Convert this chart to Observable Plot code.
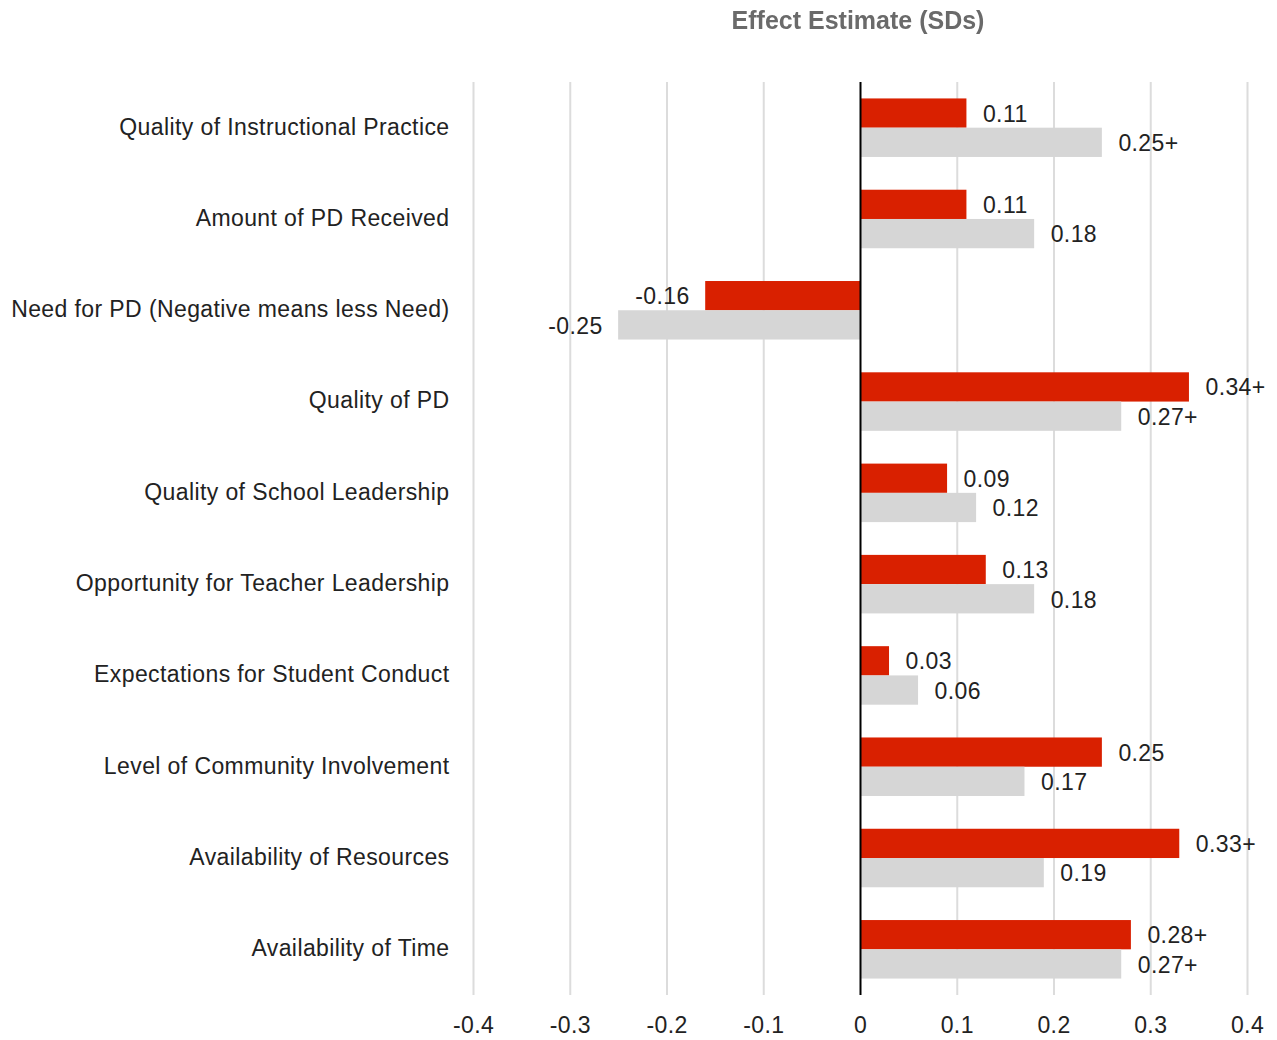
<!DOCTYPE html>
<html>
<head>
<meta charset="utf-8">
<script src="https://cdn.jsdelivr.net/npm/d3@7"></script>
<script src="https://cdn.jsdelivr.net/npm/@observablehq/plot@0.6"></script>
<style>
  html, body { margin: 0; padding: 0; background: #fff; }
  #title { height: 45px; width: 1277px; position: relative; font-family: "Liberation Sans", Arial, sans-serif; }
  #title span { position: absolute; left: 858px; top: 6px; transform: translateX(-50%); font-size: 25px; font-weight: bold; color: #6a6a6a; white-space: nowrap; filter: blur(0.6px); }
  svg { display: block; }
  svg text { letter-spacing: 0.4px; }
</style>
</head>
<body>
<div id="title"><span>Effect Estimate (SDs)</span></div>
<div id="chart"></div>
<script>
const categories = [
  "Quality of Instructional Practice",
  "Amount of PD Received",
  "Need for PD (Negative means less Need)",
  "Quality of PD",
  "Quality of School Leadership",
  "Opportunity for Teacher Leadership",
  "Expectations for Student Conduct",
  "Level of Community Involvement",
  "Availability of Resources",
  "Availability of Time"
];
const redValues  = [0.11, 0.11, -0.16, 0.34, 0.09, 0.13, 0.03, 0.25, 0.33, 0.28];
const grayValues = [0.25, 0.18, -0.25, 0.27, 0.12, 0.18, 0.06, 0.17, 0.19, 0.27];
const redLabels  = ["0.11", "0.11", "-0.16", "0.34+", "0.09", "0.13", "0.03", "0.25", "0.33+", "0.28+"];
const grayLabels = ["0.25+", "0.18", "-0.25", "0.27+", "0.12", "0.18", "0.06", "0.17", "0.19", "0.27+"];
const xTicks = [-0.4, -0.3, -0.2, -0.1, 0, 0.1, 0.2, 0.3, 0.4];

const red = categories.map((c, i) => ({category: c, value: redValues[i], label: redLabels[i]}));
const gray = categories.map((c, i) => ({category: c, value: grayValues[i], label: grayLabels[i]}));

const RED = "#d92000";
const GRAY = "#d6d6d6";
const font = "Liberation Sans, Arial, sans-serif";
const FS = 23;

const chart = Plot.plot({
  width: 1277,
  height: 995,
  marginTop: 37,
  marginBottom: 45,
  marginLeft: 473,
  marginRight: 30,
  style: {fontFamily: font, fontSize: FS + "px", color: "#222", background: "#fff"},
  x: {domain: [-0.4, 0.4], ticks: xTicks, tickFormat: d => d === 0 ? "0" : d.toFixed(1), label: null},
  y: {domain: categories, paddingInner: 0.359, paddingOuter: 0.18, round: false, label: null},
  marks: [
    Plot.ruleX(xTicks.filter(d => d !== 0), {stroke: "#dcdcdc", strokeWidth: 2}),
    Plot.barX(red, {x: "value", y: "category", fill: RED, insetBottom: 29.25}),
    Plot.barX(gray, {x: "value", y: "category", fill: GRAY, insetTop: 29.25}),
    Plot.ruleX([0], {stroke: "#000", strokeWidth: 2}),
    Plot.text(red.filter(d => d.value >= 0), {x: "value", y: "category", text: "label", dx: 16, dy: -14, textAnchor: "start", fill: "#222", fontSize: FS}),
    Plot.text(red.filter(d => d.value < 0), {x: "value", y: "category", text: "label", dx: -16, dy: -14, textAnchor: "end", fill: "#222", fontSize: FS}),
    Plot.text(gray.filter(d => d.value >= 0), {x: "value", y: "category", text: "label", dx: 16, dy: 15.5, textAnchor: "start", fill: "#222", fontSize: FS}),
    Plot.text(gray.filter(d => d.value < 0), {x: "value", y: "category", text: "label", dx: -16, dy: 15.5, textAnchor: "end", fill: "#222", fontSize: FS}),
    Plot.axisX({ticks: xTicks, tickFormat: d => d === 0 ? "0" : d.toFixed(1), tickSize: 0, tickPadding: 21, fontSize: FS, label: null}),
    Plot.axisY({tickSize: 0, tickPadding: 24, fontSize: FS, dy: -1, label: null})
  ]
});
document.getElementById("chart").appendChild(chart);
</script>
</body>
</html>
